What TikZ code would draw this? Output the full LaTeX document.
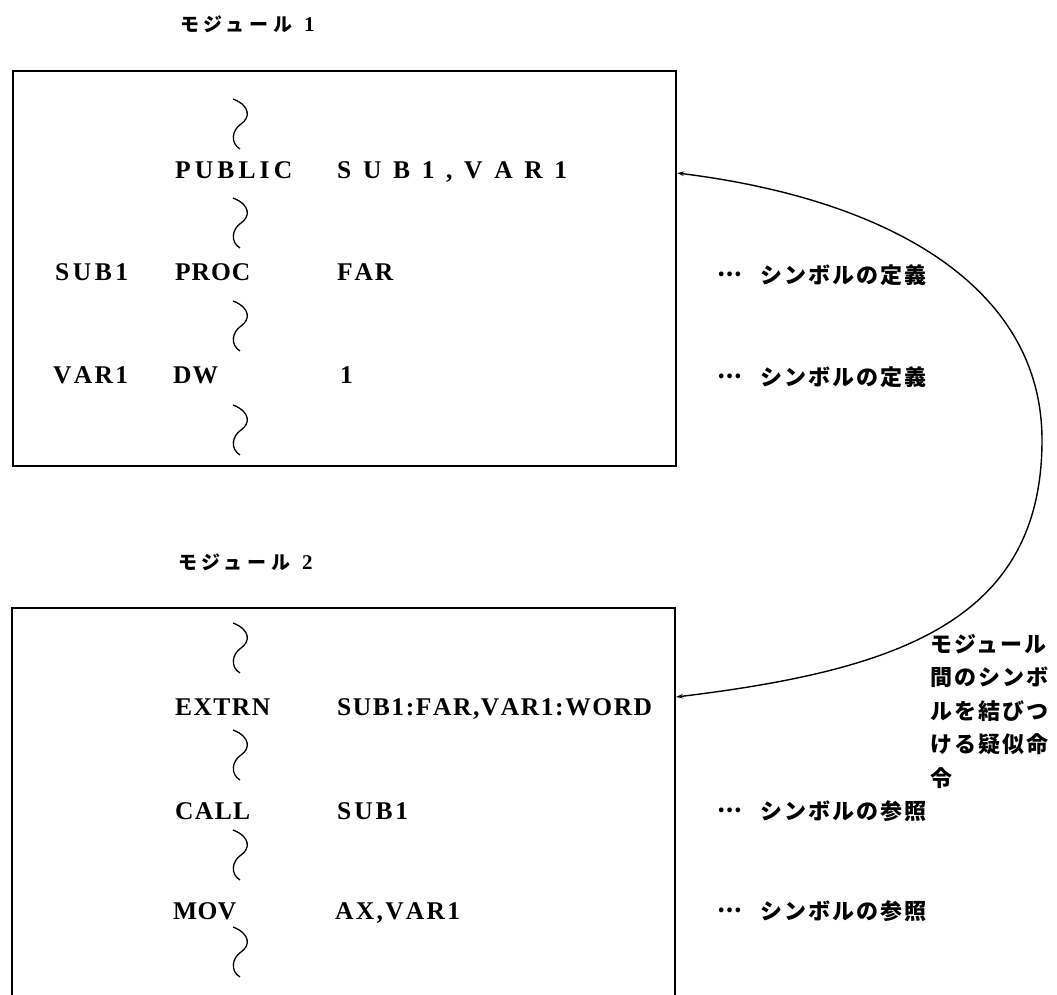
\documentclass[tikz,border=0pt]{standalone}
\usepackage{fontspec}
\setmainfont{Liberation Serif}
\newfontfamily\jp{Noto Sans CJK JP}
\usetikzlibrary{arrows.meta}
\makeatletter
\def\sp@a#1{\ifx#1\@nil\else#1\hfil\expandafter\sp@a\fi}
\newcommand\spreadto[2]{\makebox[#1pt][s]{\sp@a#2\@nil\unskip}}
\makeatother
\newcommand\mdots{\raisebox{7pt}{…}}
\tikzset{
  squig/.pic={\draw[squigline] (-7,-25) .. controls (11,-18) and (10,-6) .. (1,0) .. controls (-8,6) and (-10,19) .. (0,25);}
}
\begin{document}
\begin{tikzpicture}[x=1pt,y=-1pt,
  box/.style={draw,line width=2pt,inner sep=0pt,anchor=north west},
  code/.style={anchor=west,inner sep=0pt,text height=17pt,text depth=0pt,font=\fontsize{25.5}{30}\selectfont\bfseries},
  jlabel/.style={anchor=west,inner sep=0pt,text height=19pt,text depth=3pt,font=\jp\bfseries\fontsize{22}{33.5}\selectfont\addfontfeature{LetterSpace=9}},
  jblock/.style={anchor=north west,inner sep=0pt,align=left,font=\jp\bfseries\fontsize{22}{33.5}\selectfont\addfontfeature{LetterSpace=9}},
  title/.style={anchor=west,inner sep=0pt,text height=17pt,text depth=3pt,font=\jp\bfseries\fontsize{19}{24}\selectfont\addfontfeature{LetterSpace=24}},
  squigline/.style={line width=1.3pt},
  link/.style={line width=1.4pt,{Stealth[length=7pt,width=4.5pt]}-{Stealth[length=7pt,width=4.5pt]}}
]
\useasboundingbox (0,0) rectangle (1057,995);

% titles
\node[title] (t1) at (180,25) {モジュール\hspace{12pt}{\rmfamily\bfseries\fontsize{21}{24}\selectfont 1}};
\node[title] (t2) at (178,562) {モジュール\hspace{12pt}{\rmfamily\bfseries\fontsize{21}{24}\selectfont 2}};

% boxes
\node[box,minimum width=663pt,minimum height=395pt] (m1) at (12,70) {};
\node[box,minimum width=663pt,minimum height=405pt] (m2) at (11,607) {};

% module 1
\pic at (240,124) {squig};
\node[code] (pub) at (175,170) {\spreadto{117}{PUBLIC}};
\node[code] (pubarg) at (337,170) {\spreadto{230}{SUB1,VAR1}};
\pic at (240,223) {squig};
\node[code] (lsub) at (55,272) {\spreadto{73}{SUB1}};
\node[code] (proc) at (175,272) {\spreadto{75}{PROC}};
\node[code] (far) at (337,272) {\spreadto{56}{FAR}};
\pic at (240,326) {squig};
\node[code] (lvar) at (53,375) {\spreadto{75}{VAR1}};
\node[code] (dw) at (173,375) {\spreadto{45}{DW}};
\node[code] (one) at (340,375) {1};
\pic at (240,430) {squig};

% module 2
\pic at (240,648) {squig};
\node[code] (ext) at (175,707) {\spreadto{95}{EXTRN}};
\node[code] (extarg) at (337,707) {\spreadto{315}{SUB1:FAR,VAR1:WORD}};
\pic at (240,755) {squig};
\node[code] (call) at (175,811) {\spreadto{75}{CALL}};
\node[code] (callarg) at (337,811) {\spreadto{71}{SUB1}};
\pic at (240,855) {squig};
\node[code] (mov) at (173,911) {\spreadto{63}{MOV}};
\node[code] (movarg) at (335,911) {\spreadto{125}{AX,VAR1}};
\pic at (240,952) {squig};

% remarks
\node[jlabel] (d1) at (717,275) {\mdots\hspace{19pt}シンボルの定義};
\node[jlabel] (d2) at (717,377) {\mdots\hspace{19pt}シンボルの定義};
\node[jlabel] (r1) at (717,811) {\mdots\hspace{19pt}シンボルの参照};
\node[jlabel] (r2) at (717,911) {\mdots\hspace{19pt}シンボルの参照};
\node[jblock] (note) at (930,634) {モジュール\\間のシンボ\\ルを結びつ\\ける疑似命\\令};

% connector
\coordinate (ya) at (0,173);
\coordinate (yb) at (0,697);
\draw[link] (m1.east |- ya) .. controls (895,200) and (1042,290) .. (1042,440)
  .. controls (1042,620) and (900,670) .. (m2.east |- yb);
\end{tikzpicture}
\end{document}
